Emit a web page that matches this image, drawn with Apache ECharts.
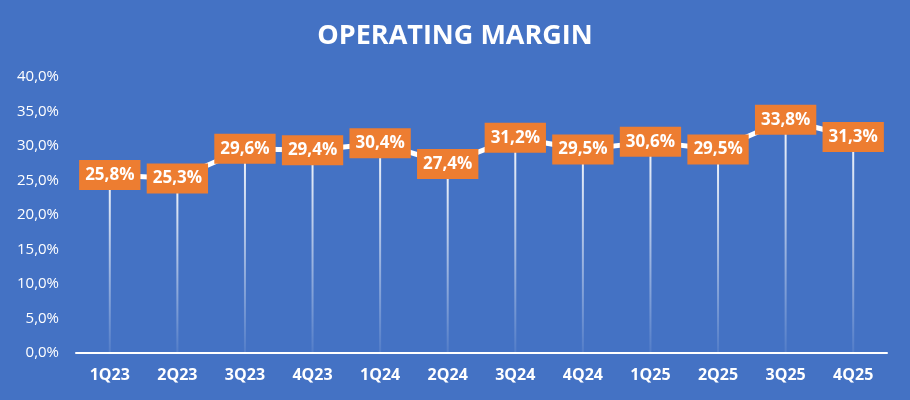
<!DOCTYPE html>
<html>
<head>
<meta charset="utf-8">
<script src="https://cdn.jsdelivr.net/npm/echarts@6/dist/echarts.min.js"></script>
<style>
  html, body { margin: 0; padding: 0; background: #4472C4; }
  #chart { width: 910px; height: 400px; }
</style>
</head>
<body>
<div id="chart"></div>
<script>
// Quarter labels and operating margin values (%)
const quarters = ['1Q23', '2Q23', '3Q23', '4Q23', '1Q24', '2Q24', '3Q24', '4Q24', '1Q25', '2Q25', '3Q25', '4Q25'];
const margins = [25.8, 25.3, 29.6, 29.4, 30.4, 27.4, 31.2, 29.5, 30.6, 29.5, 33.8, 31.3];

const bg = '#4472C4';
const orange = '#ED7D31';
const font = '"Open Sans", "Noto Sans", sans-serif';

function pct(v) {
    return v.toFixed(1).replace('.', ',') + '%';
}

const myChart = echarts.init(document.getElementById('chart'));

const option = {
    backgroundColor: bg,
    animation: false,
    textStyle: { fontFamily: font, color: '#FFFFFF' },
    title: {
        text: 'OPERATING MARGIN',
        left: 'center',
        top: 18,
        textStyle: {
            color: '#FFFFFF',
            fontSize: 27,
            fontWeight: 'bold',
            fontFamily: font
        }
    },
    grid: {
        left: 76,
        right: 23,
        top: 77,
        bottom: 47,
        containLabel: false
    },
    xAxis: {
        type: 'category',
        data: quarters,
        axisLine: { lineStyle: { color: '#FFFFFF', width: 2 } },
        axisTick: { show: false },
        axisLabel: {
            color: '#FFFFFF',
            fontSize: 16,
            fontWeight: 'bold',
            margin: 14
        }
    },
    yAxis: {
        type: 'value',
        min: 0,
        max: 40,
        interval: 5,
        axisLine: { show: false },
        axisTick: { show: false },
        splitLine: { show: false },
        axisLabel: {
            color: '#FFFFFF',
            fontSize: 15,
            margin: 17,
            formatter: pct
        }
    },
    series: [
        {
            // drop lines from each point down to the axis
            type: 'bar',
            data: margins,
            barWidth: 2,
            silent: true,
            itemStyle: {
                color: new echarts.graphic.LinearGradient(0, 0, 0, 1, [
                    { offset: 0, color: 'rgba(255,255,255,0.95)' },
                    { offset: 1, color: 'rgba(255,255,255,0.08)' }
                ])
            }
        },
        {
            type: 'line',
            data: margins,
            symbol: 'circle',
            symbolSize: 1,
            lineStyle: { color: '#FFFFFF', width: 5 },
            itemStyle: { color: '#FFFFFF' },
            z: 5,
            label: {
                show: true,
                position: 'inside',
                formatter: p => pct(p.value),
                backgroundColor: orange,
                color: '#FFFFFF',
                fontSize: 17,
                fontWeight: 'bold',
                padding: [7, 6, 6, 6]
            }
        }
    ]
};

myChart.setOption(option);
</script>
</body>
</html>
